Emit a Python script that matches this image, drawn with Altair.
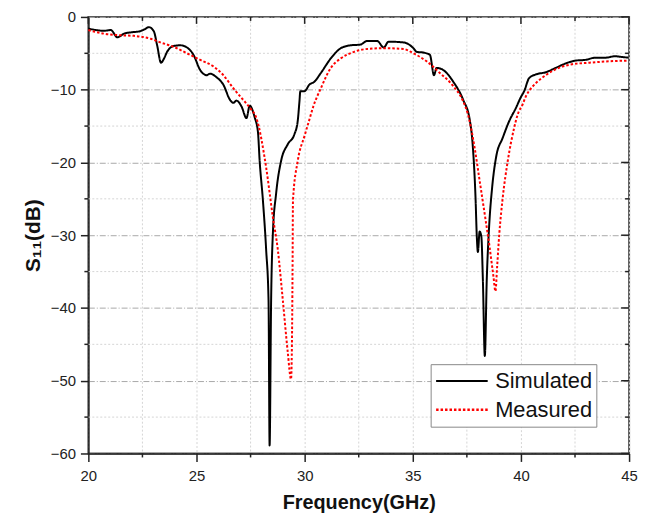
import altair as alt
import pandas as pd

# ---- data ----
sim_x = [20.0, 20.73, 21.04, 21.34, 21.65, 22.0, 22.34, 22.6, 22.8, 23.03, 23.18, 23.36, 23.5, 23.64,
         23.94, 24.25, 24.56, 24.86, 25.17, 25.47, 25.63, 25.93, 26.24, 26.55, 26.7, 26.85, 27.08,
         27.31, 27.46, 27.69, 27.84, 27.92, 28.07, 28.22, 28.33, 28.38, 28.45, 28.53, 28.68, 28.91,
         29.22, 29.53, 29.68, 29.76, 29.8, 29.99, 30.22, 30.45, 30.75, 31.21, 31.67, 32.12, 32.58,
         32.89, 33.35, 33.66, 33.88, 34.57, 35.03, 35.18, 35.49, 35.79, 35.98, 36.1, 36.41, 36.87,
         37.33, 37.63, 37.78, 37.9, 37.96, 38.01, 38.09, 38.17, 38.24, 38.33, 38.42, 38.52, 38.67,
         38.85, 39.16, 39.46, 39.77, 40.0, 40.15, 40.38, 40.69, 41.15, 41.61, 42.06, 42.52, 42.98,
         43.44, 43.9, 44.36, 44.66, 44.97]
sim_y = [-1.6, -1.9, -1.8, -2.8, -2.3, -2.1, -2.0, -1.7, -1.4, -2.0, -3.9, -6.3, -5.7, -4.8,
         -4.0, -3.9, -4.2, -5.2, -7.3, -8.0, -7.8, -8.3, -9.3, -11.4, -11.8, -11.5, -12.3,
         -13.9, -12.2, -13.8, -15.8, -19.8, -25.2, -32.0, -38.9, -58.9, -38.9, -29.8, -24.3, -19.8,
         -17.5, -16.1, -14.3, -11.6, -10.2, -10.2, -9.3, -8.9, -7.7, -5.7, -4.3, -3.9, -3.8,
         -3.3, -3.3, -4.2, -3.4, -3.5, -4.3, -4.8, -4.9, -5.2, -8.0, -7.0, -7.3, -8.9,
         -11.4, -14.1, -18.0, -24.8, -30.2, -32.3, -29.5, -30.2, -36.1, -46.6, -36.1, -29.3, -23.4,
         -19.3, -16.6, -14.3, -12.5, -11.0, -10.2, -8.4, -7.9, -7.6, -7.0, -6.4, -6.0, -5.9,
         -5.6, -5.6, -5.4, -5.5, -5.6]

meas_x = [20.0, 20.73, 21.34, 22.1, 22.88, 23.33, 23.94, 24.56, 25.17, 25.78, 26.24, 26.7, 27.16,
          27.5, 27.77, 28.22, 28.53, 28.76, 28.99, 29.22, 29.37, 29.41, 29.44, 29.46, 29.68, 30.0,
          30.22, 30.4, 30.75, 31.21, 31.67, 32.28, 32.89, 33.66, 34.57, 35.03, 35.64, 36.25, 36.87,
          37.33, 37.55, 37.86, 38.09, 38.32, 38.55, 38.73, 38.82, 38.9, 39.0, 39.16, 39.39, 39.69,
          39.85, 40.08, 40.23, 40.53, 40.69, 41.15, 41.76, 42.37, 43.13, 44.05, 44.97]
meas_y = [-1.8, -2.3, -2.5, -2.6, -3.0, -3.5, -4.1, -5.0, -5.9, -6.8, -8.0, -9.8, -11.4,
          -12.6, -13.9, -20.7, -27.5, -32.0, -38.9, -46.1, -49.8, -45.5, -35.0, -25.2, -19.8, -16.3,
          -14.1, -12.3, -9.8, -7.0, -5.7, -4.8, -4.4, -4.3, -4.4, -5.0, -6.1, -7.7, -9.5,
          -11.6, -13.4, -18.0, -22.5, -27.0, -31.6, -35.7, -37.7, -34.3, -29.8, -24.8, -19.8, -15.2,
          -13.4, -12.0, -10.9, -9.6, -9.1, -8.0, -7.0, -6.5, -6.3, -6.1, -6.0]

series_names = ["Simulated", "Measured"]
x_major = [20, 25, 30, 35, 40, 45]
x_minor = [22.5, 27.5, 32.5, 37.5, 42.5]
y_major = [-60, -50, -40, -30, -20, -10, 0]
y_minor = [-55, -45, -35, -25, -15, -5]

rows = []
for i, (x, y) in enumerate(zip(sim_x, sim_y)):
    rows.append({"f": x, "s": y, "series": series_names[0], "i": i})
for i, (x, y) in enumerate(zip(meas_x, meas_y)):
    rows.append({"f": x, "s": y, "series": series_names[1], "i": i})
df = pd.DataFrame(rows)

FONT = "Liberation Sans"
W, H = 545, 440
TICK = "#222"

xscale = alt.Scale(domain=[20, 45], nice=False, zero=False)
yscale = alt.Scale(domain=[-60, 0], nice=False, zero=False)

x_axis = alt.Axis(
    values=x_major, labelFlush=False,
    title="Frequency(GHz)", titleFont=FONT, titleFontSize=20, titleFontWeight="bold",
    titleColor="#111", titlePadding=9,
    labelFont=FONT, labelFontSize=15, labelColor="#222", labelPadding=7,
    ticks=True, tickColor=TICK, tickWidth=1.5, tickSize=8,
    domainColor=TICK, domainWidth=1.5,
    grid=True, gridColor="#d4d4d4", gridDash=[2, 2], gridWidth=1,
)
y_axis = alt.Axis(
    values=y_major, labelFlush=False,
    title="S₁₁(dB)", titleFont=FONT, titleFontSize=21, titleFontWeight="bold",
    titleColor="#111", titlePadding=7,
    labelFont=FONT, labelFontSize=15, labelColor="#222", labelPadding=5,
    ticks=True, tickColor=TICK, tickWidth=1.5, tickSize=8,
    domainColor=TICK, domainWidth=1.5,
    grid=True, gridColor="#a8a8a8", gridDash=[6, 2, 1, 2], gridWidth=1,
)

df_xmaj = pd.DataFrame({"v": x_major})
df_xmin = pd.DataFrame({"v": x_minor})
df_ymaj = pd.DataFrame({"v": y_major})
df_ymin = pd.DataFrame({"v": y_minor})

# minor grid lines
grid_xmin = alt.Chart(df_xmin).mark_rule(color="#d4d4d4", strokeWidth=1, strokeDash=[2, 2]).encode(
    x=alt.X("v:Q", scale=xscale, axis=x_axis), y=alt.value(0), y2=alt.value(H))
grid_ymin = alt.Chart(df_ymin).mark_rule(color="#d4d4d4", strokeWidth=1, strokeDash=[2, 2]).encode(
    y=alt.Y("v:Q", scale=yscale, axis=y_axis), x=alt.value(0), x2=alt.value(W))

lines = alt.Chart(df).mark_line(strokeWidth=2, interpolate="monotone").encode(
    x=alt.X("f:Q", scale=xscale, axis=x_axis),
    y=alt.Y("s:Q", scale=yscale, axis=y_axis),
    color=alt.Color("series:N", scale=alt.Scale(domain=series_names, range=["#000000", "#ff0000"]),
                    legend=alt.Legend(title=None)),
    strokeDash=alt.StrokeDash("series:N", scale=alt.Scale(domain=series_names, range=[[1, 0], [2.5, 2]]),
                              legend=alt.Legend(title=None)),
    strokeWidth=alt.StrokeWidth("series:N", scale=alt.Scale(domain=series_names, range=[2, 2.5]),
                                legend=None),
    order="i:Q",
)

# minor ticks on bottom / left (outward), all ticks on top / right (inward)
bot_minor = alt.Chart(df_xmin).mark_rule(color=TICK, strokeWidth=1.5).encode(
    x=alt.X("v:Q", scale=xscale), y=alt.value(H), y2=alt.value(H + 4))
left_minor = alt.Chart(df_ymin).mark_rule(color=TICK, strokeWidth=1.5).encode(
    y=alt.Y("v:Q", scale=yscale), x=alt.value(0), x2=alt.value(-4))
top_major = alt.Chart(df_xmaj).mark_rule(color=TICK, strokeWidth=1.5).encode(
    x=alt.X("v:Q", scale=xscale), y=alt.value(0), y2=alt.value(7))
top_minor = alt.Chart(df_xmin).mark_rule(color=TICK, strokeWidth=1.5).encode(
    x=alt.X("v:Q", scale=xscale), y=alt.value(0), y2=alt.value(4))
right_major = alt.Chart(df_ymaj).mark_rule(color=TICK, strokeWidth=1.5).encode(
    y=alt.Y("v:Q", scale=yscale), x=alt.value(W), x2=alt.value(W - 8))
right_minor = alt.Chart(df_ymin).mark_rule(color=TICK, strokeWidth=1.5).encode(
    y=alt.Y("v:Q", scale=yscale), x=alt.value(W), x2=alt.value(W - 4))

chart = alt.layer(
    grid_xmin, grid_ymin, lines, bot_minor, left_minor,
    top_major, top_minor, right_major, right_minor
).properties(
    width=W, height=H,
    autosize=alt.AutoSizeParams(type="none"),
    padding={"left": 81, "top": 7, "right": 10, "bottom": 60},
).configure_view(
    stroke="#555", strokeWidth=2
).configure_legend(
    orient="none", legendX=345, legendY=350,
    labelFont=FONT, labelFontSize=22, labelColor="#111", labelOffset=6,
    symbolType="stroke", symbolSize=2704, symbolStrokeWidth=2,
    clipHeight=26, padding=4, rowPadding=3,
    strokeColor="#888", fillColor="white",
)

chart.save("out.html", embed_options={"renderer": "svg", "actions": False})
